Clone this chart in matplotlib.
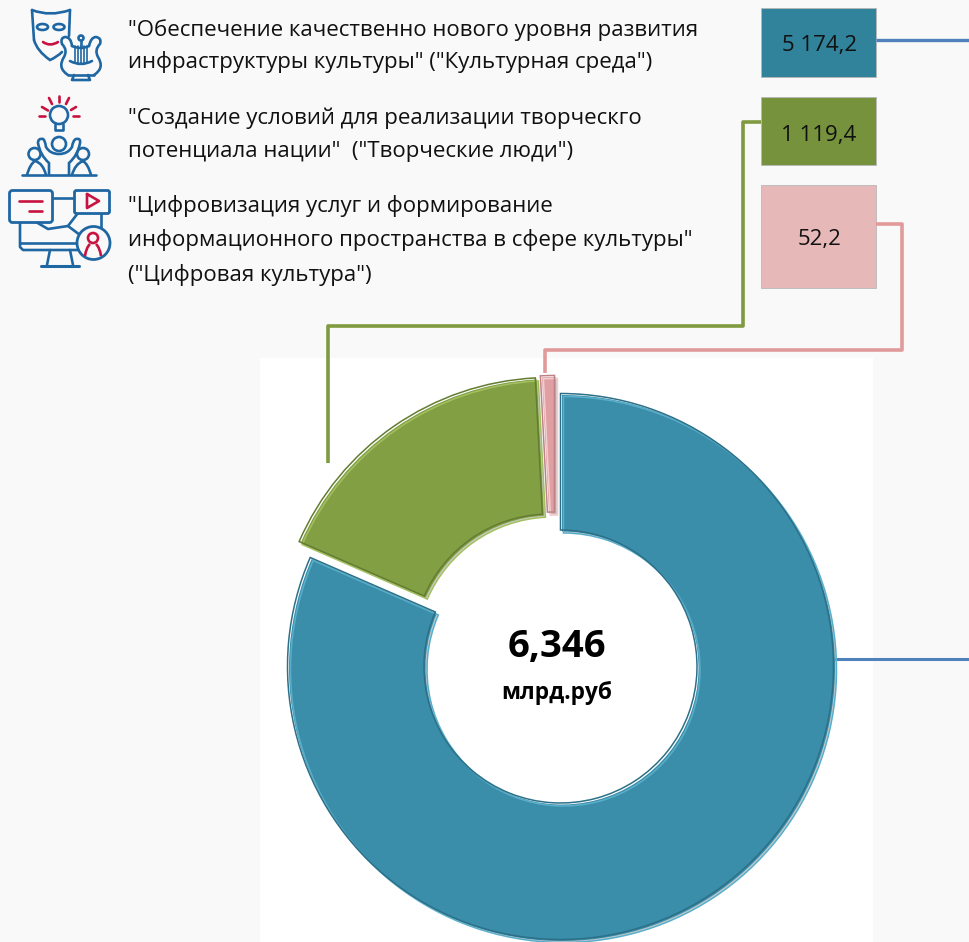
import matplotlib
matplotlib.use('Agg')
import matplotlib.pyplot as plt
import matplotlib.patheffects as pe
from matplotlib.patches import Rectangle, Circle, Ellipse, FancyBboxPatch, PathPatch
from matplotlib.path import Path

plt.rcParams['font.family'] = ['Open Sans', 'DejaVu Sans']

# data
values = [5174.2, 1119.4, 52.2]
value_labels = ['5 174,2', '1 119,4', '52,2']
explode = [0, 0.071, 0.066]
total_label = '6,346'
unit_label = 'млрд.руб'
names = [
    ['"Обеспечение качественно нового уровня развития',
     'инфраструктуры культуры" ("Культурная среда")'],
    ['"Создание условий для реализации творческго',
     'потенциала нации"  ("Творческие люди")'],
    ['"Цифровизация услуг и формирование',
     'информационного пространства в сфере культуры"',
     '("Цифровая культура")'],
]

ring_colors = ['#3a8ea9', '#839f44', '#e0a0a3']
light_colors = ['#58aecb', '#a3c060', '#f4cccc']
dark_colors = ['#2b7088', '#637d30', '#bd8285']
box_colors = ['#31839b', '#76923c', '#e6b8b7']
line_colors = ['#4f81bd', '#7f9a3f', '#e09a9a']
BLUE = '#1f67a3'
RED = '#c8123f'

fig = plt.figure(figsize=(9.69, 9.42), dpi=100, facecolor='#f9f9f9')
ax = fig.add_axes([0, 0, 1, 1])
ax.set_xlim(0, 969)
ax.set_ylim(942, 0)
ax.axis('off')

ax.add_patch(Rectangle((260, 358), 613, 584, fc='white', ec='none'))

# text on the left
name_y = [[30, 62], [118, 151], [206, 240, 275]]
for lines, ys in zip(names, name_y):
    for s, y in zip(lines, ys):
        ax.text(128, y, s, fontsize=16, va='center', ha='left', color='#111111')

# value boxes
box_y = [(8, 69), (97, 68), (185, 103)]
label_pos = [(820, 46), (819, 135), (820, 240)]
for (y, h), c, s, (tx, ty) in zip(box_y, box_colors, value_labels, label_pos):
    ax.add_patch(Rectangle((761, y), 115, h, fc=c, ec='#b8b8b8', lw=0.6))
    ax.text(tx, ty, s, fontsize=16, ha='center', va='center', color='#111111')

# connectors
ax.plot([876, 969], [39.5, 39.5], color=line_colors[0], lw=2.4, solid_capstyle='butt')
ax.plot([835, 969], [659, 659], color=line_colors[0], lw=2.2, solid_capstyle='butt')
ax.plot([761, 743, 743, 328, 328], [122, 122, 326, 326, 463], color=line_colors[1], lw=2.6,
        solid_joinstyle='round', solid_capstyle='butt')
ax.plot([876, 902, 902, 545, 545], [224, 224, 350, 350, 373], color=line_colors[2], lw=2.6,
        solid_joinstyle='round', solid_capstyle='butt')


# icons
def stroke(pts, color=BLUE, lw=1.9, zorder=2):
    ax.plot([p[0] for p in pts], [p[1] for p in pts], color=color, lw=lw, zorder=zorder,
            solid_capstyle='round', solid_joinstyle='round')


def curve(start, *quads, color=BLUE, lw=1.9):
    verts = [start]
    codes = [Path.MOVETO]
    for c, p in quads:
        verts += [c, p]
        codes += [Path.CURVE3, Path.CURVE3]
    ax.add_patch(PathPatch(Path(verts, codes), fc='none', ec=color, lw=lw, capstyle='round'))


def ring(x, y, r, color=BLUE, lw=1.9, fc='none', zorder=2):
    ax.add_patch(Circle((x, y), r, fc=fc, ec=color, lw=lw, zorder=zorder))


# mask and lyre
curve((32, 10), ((50, 17), (70, 10)))
stroke([(32, 10), (34, 40)])
stroke([(70, 10), (69, 36)])
curve((34, 40), ((37, 51), (50, 60)), ((57, 57), (62, 52)))
for ex in [42.5, 59]:
    ax.add_patch(Ellipse((ex, 27), 11, 6, fc='none', ec=BLUE, lw=1.9))
curve((43, 42), ((50, 47), (58, 42)), color=RED)
curve((72, 46), ((71, 37), (65, 37)), ((60, 38), (62, 44)), ((68, 50), (64, 57)),
      ((57, 68), (68, 75)))
curve((89, 46), ((91, 37), (96, 37)), ((102, 38), (100, 44)), ((94, 50), (98, 57)),
      ((105, 68), (94, 75)))
stroke([(68, 75), (94, 75)])
curve((72, 46), ((81, 50), (89, 46)))
curve((70, 61), ((81, 67), (92, 61)))
for sx in [75, 78, 81, 84, 87]:
    stroke([(sx, 46), (sx, 63)], lw=1.2)
ring(81, 38, 2.5)
stroke([(81, 41), (81, 47)])
stroke([(74, 75), (72, 80), (90, 80), (88, 75)])

# bulb and people
for a, b in [((39, 115.5), (45, 115.5)), ((42, 107), (48, 110.5)), ((49, 98), (52, 104)),
             ((59, 96), (59, 102)), ((66, 104), (69, 98)), ((71, 110), (76, 107)),
             ((73, 115.5), (79, 115.5))]:
    stroke([a, b], color=RED)
ring(59, 115, 9)
stroke([(55, 124), (55, 130), (63, 130), (63, 124)])
ring(59, 144, 7)
stroke([(22, 175), (96, 175)])
curve((49, 175), ((49, 168), (49, 163)), ((40, 155), (38, 143)), ((38, 138), (43, 139)),
      ((45, 140), (46, 147)), ((50, 154), (59, 154)), ((68, 154), (72, 147)),
      ((73, 140), (76, 139)), ((81, 138), (80, 143)), ((78, 155), (69, 163)),
      ((69, 168), (69, 175)))
ring(34.5, 154, 6)
ring(83, 154, 6)
curve((27, 175), ((30, 164), (35, 161)), ((43, 163), (46, 175)))
curve((72, 175), ((75, 164), (83, 161)), ((88, 164), (91, 175)))

# screen, chat and user
ax.add_patch(FancyBboxPatch((11, 192), 40, 29, boxstyle='round,pad=1.5,rounding_size=3',
                            fc='#f9f9f9', ec=BLUE, lw=2.0, zorder=3))
ax.add_patch(FancyBboxPatch((76, 192), 32, 20, boxstyle='round,pad=1.5,rounding_size=2',
                            fc='#f9f9f9', ec=BLUE, lw=2.0, zorder=3))
stroke([(19, 201), (42, 201)], color=RED, zorder=4)
stroke([(29, 211), (42, 211)], color=RED, zorder=4)
stroke([(87, 194), (87, 208), (99, 201), (87, 194)], color=RED, zorder=4)
stroke([(52, 198), (74, 198)])
stroke([(20, 222), (20, 247), (23, 250), (80, 250)])
stroke([(20, 243), (78, 243)])
stroke([(101, 213), (101, 228)])
stroke([(36, 222), (48, 229), (68, 226), (78, 213)])
stroke([(68, 226), (80, 235)])
stroke([(50, 250), (47, 265)])
stroke([(70, 250), (73, 265)])
stroke([(41, 266), (79, 266)], lw=2.2)
ring(93.5, 243, 16.5, fc='#f9f9f9', lw=2.0, zorder=3)
ax.add_patch(Circle((93, 238), 5, fc='none', ec=RED, lw=1.9, zorder=4))
for start, c, end in [((85, 256), (86, 248), (90, 244)), ((101, 256), (100, 248), (96, 244))]:
    ax.add_patch(PathPatch(Path([start, c, end], [Path.MOVETO, Path.CURVE3, Path.CURVE3]),
                           fc='none', ec=RED, lw=1.9, zorder=4))

# donut
cx, cy, ring_r, half = 562, 668, 273, 300
dax = fig.add_axes([(cx - half) / 969, 1 - (cy + half) / 942, 2 * half / 969, 2 * half / 942])
dax.patch.set_visible(False)

base, _ = dax.pie(values, explode=explode, startangle=90, counterclock=False, colors=ring_colors,
                  wedgeprops=dict(width=0.5, lw=0))
# pink slice sits a bit left of its radial position
base[2].set_center((-0.022, 0.066))
for w in base:
    w.set_path_effects([pe.SimplePatchShadow(offset=(1, -1), alpha=0.25), pe.Normal()])


# bevel: an outline shifted inward on one side only, cut to the slice
def bevel(colors, dx, dy):
    strokes, _ = dax.pie(values, explode=explode, startangle=90, counterclock=False,
                         wedgeprops=dict(width=0.5, fc='none', lw=1.1))
    for w, b, c in zip(strokes, base, colors):
        w.set_facecolor('none')
        w.set_edgecolor(c)
        w.set_center((b.center[0] + dx, b.center[1] + dy))
        w.set_clip_path(b)


bevel(light_colors, 0.0055, -0.0055)
bevel(dark_colors, -0.0055, 0.0055)

dax.set_xlim(-half / ring_r, half / ring_r)
dax.set_ylim(-half / ring_r, half / ring_r)
dax.set_frame_on(False)

ax.set_zorder(0)
dax.set_zorder(1)
dax.text(-5 / ring_r, 21 / ring_r, total_label, fontsize=27.5, fontweight='bold', ha='center', va='center', color='black')
dax.text(-5 / ring_r, -25 / ring_r, unit_label, fontsize=16.3, fontweight='bold', ha='center', va='center', color='black')

fig.savefig('out.png', dpi=100, facecolor=fig.get_facecolor())
